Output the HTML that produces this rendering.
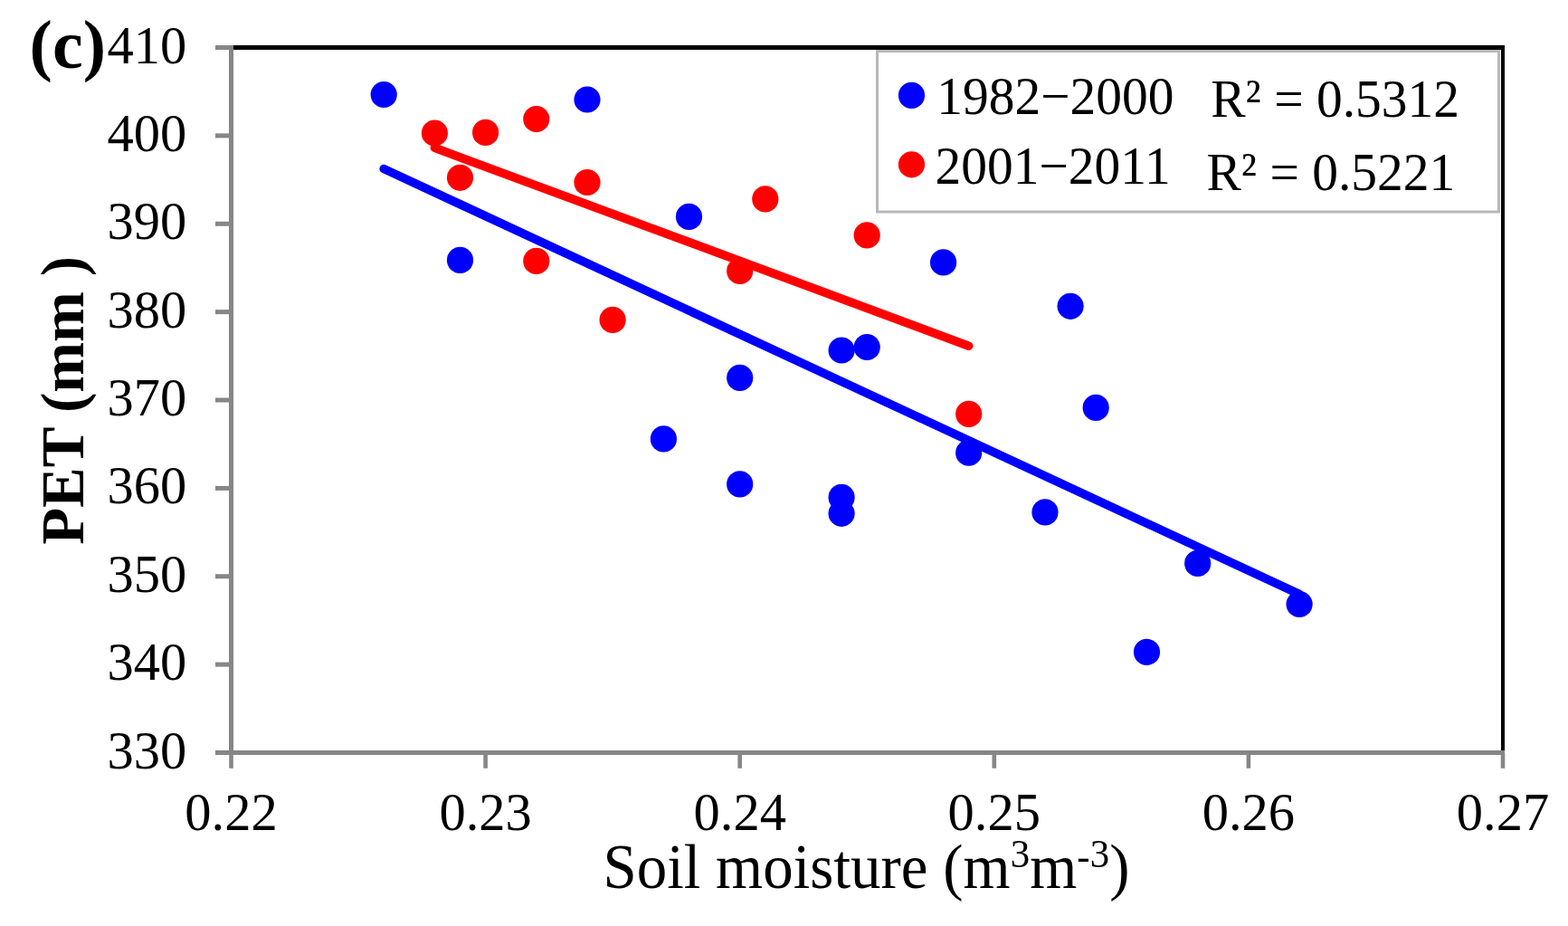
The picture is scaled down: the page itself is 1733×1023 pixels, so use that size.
<!DOCTYPE html>
<html><head><meta charset="utf-8"><title>PET vs Soil moisture</title>
<style>
html,body{margin:0;padding:0;background:#fff;}
body{width:1733px;height:1023px;overflow:hidden;}
svg{display:block;}
text{font-family:"Liberation Serif",serif;fill:#000;}
</style></head><body>
<svg width="1733" height="1023" viewBox="0 0 1733 1023">
<rect x="0" y="0" width="1733" height="1023" fill="#fff"/>

<line x1="255.5" y1="52.5" x2="1663" y2="52.5" stroke="#000" stroke-width="5"/>
<line x1="1661" y1="50" x2="1661" y2="831.5" stroke="#000" stroke-width="4"/>
<rect x="969.5" y="56.5" width="687" height="177.5" fill="#fff" stroke="#b8b8b8" stroke-width="3"/>
<g stroke="#868686" stroke-width="5" fill="none">
<line x1="255.5" y1="50" x2="255.5" y2="834"/>
<line x1="253" y1="831.5" x2="1663" y2="831.5"/>
<line x1="238" y1="52.50" x2="255.5" y2="52.50"/>
<line x1="238" y1="149.88" x2="255.5" y2="149.88"/>
<line x1="238" y1="247.25" x2="255.5" y2="247.25"/>
<line x1="238" y1="344.62" x2="255.5" y2="344.62"/>
<line x1="238" y1="442.00" x2="255.5" y2="442.00"/>
<line x1="238" y1="539.38" x2="255.5" y2="539.38"/>
<line x1="238" y1="636.75" x2="255.5" y2="636.75"/>
<line x1="238" y1="734.12" x2="255.5" y2="734.12"/>
<line x1="238" y1="831.50" x2="255.5" y2="831.50"/>
<line x1="255.50" y1="831.5" x2="255.50" y2="848.8" stroke-width="4.6"/>
<line x1="536.60" y1="831.5" x2="536.60" y2="848.8" stroke-width="4.6"/>
<line x1="817.70" y1="831.5" x2="817.70" y2="848.8" stroke-width="4.6"/>
<line x1="1098.80" y1="831.5" x2="1098.80" y2="848.8" stroke-width="4.6"/>
<line x1="1379.90" y1="831.5" x2="1379.90" y2="848.8" stroke-width="4.6"/>
<line x1="1661.00" y1="831.5" x2="1661.00" y2="848.8" stroke-width="4.6"/>
</g>
<g font-size="58.5" text-anchor="end">
<text x="206.3" y="69.5">410</text>
<text x="206.3" y="166.9">400</text>
<text x="206.3" y="264.2">390</text>
<text x="206.3" y="361.6">380</text>
<text x="206.3" y="459.0">370</text>
<text x="206.3" y="556.4">360</text>
<text x="206.3" y="653.8">350</text>
<text x="206.3" y="751.1">340</text>
<text x="206.3" y="848.5">330</text>
</g>
<g font-size="58.5" text-anchor="middle">
<text x="255.5" y="916.8">0.22</text>
<text x="536.6" y="916.8">0.23</text>
<text x="817.7" y="916.8">0.24</text>
<text x="1098.8" y="916.8">0.25</text>
<text x="1379.9" y="916.8">0.26</text>
<text x="1661.0" y="916.8">0.27</text>
</g>
<line x1="424.2" y1="186.5" x2="1436.1" y2="656.4" stroke="#0000ff" stroke-width="9.6" stroke-linecap="round"/>
<line x1="480.4" y1="163.3" x2="1070.7" y2="382.2" stroke="#ff0000" stroke-width="9.6" stroke-linecap="round"/>
<g fill="#0000ff">
<circle cx="424.2" cy="104.5" r="14.6"/>
<circle cx="649.0" cy="110.0" r="14.6"/>
<circle cx="508.5" cy="287.4" r="14.6"/>
<circle cx="761.5" cy="239.4" r="14.6"/>
<circle cx="817.7" cy="417.4" r="14.6"/>
<circle cx="817.7" cy="534.9" r="14.6"/>
<circle cx="733.4" cy="484.9" r="14.6"/>
<circle cx="930.1" cy="387.0" r="14.6"/>
<circle cx="958.2" cy="383.5" r="14.6"/>
<circle cx="930.1" cy="549.4" r="14.6"/>
<circle cx="930.1" cy="567.3" r="14.6"/>
<circle cx="1042.6" cy="289.9" r="14.6"/>
<circle cx="1070.7" cy="500.2" r="14.6"/>
<circle cx="1183.1" cy="338.3" r="14.6"/>
<circle cx="1211.2" cy="450.4" r="14.6"/>
<circle cx="1155.0" cy="565.9" r="14.6"/>
<circle cx="1323.7" cy="622.4" r="14.6"/>
<circle cx="1436.1" cy="667.5" r="14.6"/>
<circle cx="1267.5" cy="720.4" r="14.6"/>
</g><g fill="#ff0000">
<circle cx="480.4" cy="147.0" r="14.6"/>
<circle cx="536.6" cy="146.4" r="14.6"/>
<circle cx="592.8" cy="131.5" r="14.6"/>
<circle cx="508.5" cy="196.3" r="14.6"/>
<circle cx="649.0" cy="201.5" r="14.6"/>
<circle cx="592.8" cy="288.4" r="14.6"/>
<circle cx="677.1" cy="353.4" r="14.6"/>
<circle cx="817.7" cy="299.4" r="14.6"/>
<circle cx="845.8" cy="219.9" r="14.6"/>
<circle cx="958.2" cy="259.9" r="14.6"/>
<circle cx="1070.7" cy="457.4" r="14.6"/>
</g>
<circle cx="1007.5" cy="105.4" r="14.6" fill="#0000ff"/>
<circle cx="1007.5" cy="181.8" r="14.6" fill="#ff0000"/>
<g font-size="57.5">
<text transform="translate(1035.2,126.2) scale(1,1.03)">1982−2000</text>
<text transform="translate(1033.4,203.4) scale(1,1.03)">2001−2011</text>
<text transform="translate(1338.2,129) scale(1,1.03)">R² = 0.5312</text>
<text transform="translate(1333.5,210) scale(1,1.03)">R² = 0.5221</text>
</g>
<text x="32.6" y="74.7" font-size="76" font-weight="bold">(c)</text>
<text transform="translate(92,601.85) rotate(-90)" font-size="67" font-weight="bold">PET (mm )</text>
<text transform="translate(666.4,981.2) scale(1,1.035)" x="0" y="0" font-size="67">Soil moisture (m<tspan font-size="43" dy="-22.5">3</tspan><tspan dy="22.5">m</tspan><tspan font-size="43" dy="-20">-</tspan><tspan font-size="43" dy="-2.5">3</tspan><tspan dy="22.5">)</tspan></text>
</svg></body></html>
